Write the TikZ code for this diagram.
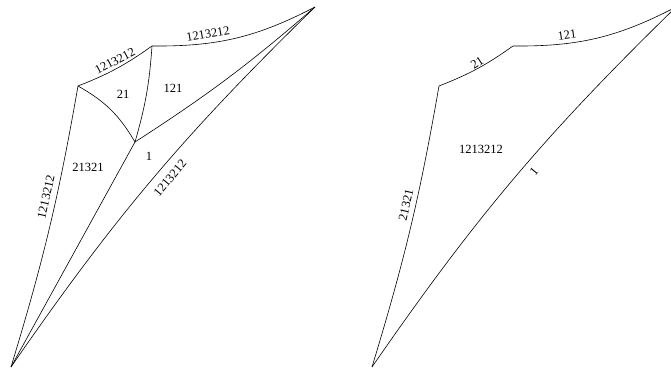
\documentclass[tikz,border=0pt]{standalone}
\usepackage{fontspec}
\setmainfont{Liberation Serif}
\begin{document}
\begin{tikzpicture}[x=1pt,y=1pt,
  edge/.style={line width=0.6pt},
  lab/.style={inner sep=0pt, font=\fontsize{12.5}{14}\selectfont}]
\useasboundingbox (0,0) rectangle (671,372);
\clip (0,0) rectangle (671,372);
% left figure vertices
\coordinate (B) at (11,5);
\coordinate (L) at (78,286);
\coordinate (U) at (152,326);
\coordinate (C) at (135,230);
\coordinate (T) at (315,365);
% right figure vertices
\coordinate (B2) at (372,5);
\coordinate (L2) at (439,286);
\coordinate (U2) at (513,326);
\coordinate (T2) at (676,365);
% left edges
\draw[edge] (B) to[bend right=3.5] (L);
\draw[edge] (B) to[bend left=5.5] (T);
\draw[edge] (U) to[bend right=14] (T);
\draw[edge] (L) to[bend right=7] (U);
\draw[edge] (L) to[bend left=15] (C);
\draw[edge] (U) to[bend left=6] (C);
\draw[edge] (C) to[bend right=4] (T);
\draw[edge] (B) -- (C);
% right edges
\draw[edge] (B2) to[bend right=3.5] (L2);
\draw[edge] (B2) to[bend left=5.5] (T2);
\draw[edge] (U2) to[bend right=14] (T2);
\draw[edge] (L2) to[bend right=7] (U2);
% left labels
\node[lab, rotate=28] (lLU) at (115,311) {1213212};
\node[lab, rotate=10] (lUT) at (208,338) {1213212};
\node[lab] (f21) at (123,278) {21};
\node[lab] (f121) at (173,284) {121};
\node[lab] (f21321) at (88,205) {21321};
\node[lab] (f1) at (149,216) {1};
\node[lab, rotate=77] (lBL) at (46,175) {1213212};
\node[lab, rotate=50] (lBT) at (170,194) {1213212};
% right labels
\node[lab, rotate=77] (rBL) at (406,167) {21321};
\node[lab, rotate=33] (rLU) at (477,309) {21};
\node[lab, rotate=8] (rUT) at (567,337) {121};
\node[lab] (rF) at (481,222.5) {1213212};
\node[lab, rotate=50] (rBT) at (534,201) {1};
\end{tikzpicture}
\end{document}
